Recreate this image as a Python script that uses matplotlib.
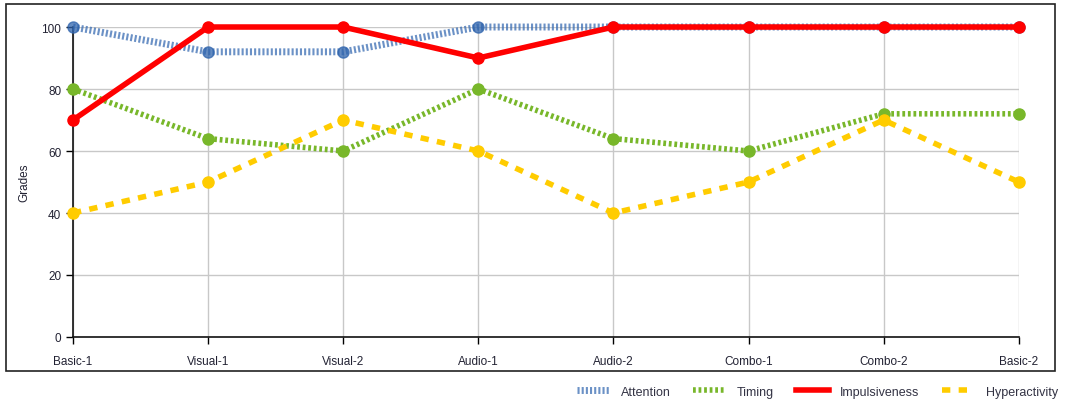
import matplotlib
matplotlib.use("Agg")
import matplotlib.pyplot as plt
from matplotlib.patches import Rectangle

# Data
sessions = ["Basic-1", "Visual-1", "Visual-2", "Audio-1", "Audio-2", "Combo-1", "Combo-2", "Basic-2"]
attention = [100, 92, 92, 100, 100, 100, 100, 100]
timing = [80, 64, 60, 80, 64, 60, 72, 72]
impulsiveness = [70, 100, 100, 90, 100, 100, 100, 100]
hyperactivity = [40, 50, 70, 60, 40, 50, 70, 50]

plt.rcParams['font.family'] = ['Liberation Sans', 'DejaVu Sans']

fig = plt.figure(figsize=(10.69, 4.06), dpi=100)
ax = fig.add_axes([0.0683, 0.1675, 0.8847, 0.7635])

x = list(range(len(sessions)))

# outer frame around the chart
fig.patches.append(Rectangle((0.006, 0.084), 0.981, 0.904, transform=fig.transFigure,
                             fill=False, edgecolor='#222222', linewidth=1.2))

ax.plot(x, attention, color='#3a6db3', lw=5, ls=(0, (0.3, 0.3)), alpha=0.75,
        marker='o', ms=8, markerfacecolor='#2f64ad', markeredgecolor='#2f64ad',
        label='Attention', zorder=3, clip_on=False)
ax.plot(x, timing, color='#78b72a', lw=4, ls=(0, (0.5, 0.5)),
        marker='o', ms=8, markerfacecolor='#78b72a', markeredgecolor='#78b72a',
        label='Timing', zorder=3, clip_on=False)
ax.plot(x, impulsiveness, color='#ff0000', lw=4, ls='-',
        marker='o', ms=8, markerfacecolor='#ff0000', markeredgecolor='#ff0000',
        label='Impulsiveness', zorder=4, clip_on=False)
ax.plot(x, hyperactivity, color='#ffcc00', lw=4, ls=(0, (1.5, 1.5)),
        marker='o', ms=8, markerfacecolor='#ffcc00', markeredgecolor='#ffcc00',
        label='Hyperactivity', zorder=3, clip_on=False)

ax.set_xlim(0, len(sessions) - 1)
ax.set_ylim(0, 100)
ax.set_xticks(x)
ax.set_xticklabels(sessions, fontsize=8.5, color='#222233')
ax.set_yticks([0, 20, 40, 60, 80, 100])
ax.tick_params(axis='y', labelsize=8.5, labelcolor='#222233', length=5, width=1)
ax.tick_params(axis='x', length=5, width=1, pad=8)
ax.grid(True, color='#c8c8c8', lw=1)
ax.set_axisbelow(True)
for s in ['top', 'right']:
    ax.spines[s].set_visible(False)
for s in ['left', 'bottom']:
    ax.spines[s].set_color('#111111')
    ax.spines[s].set_linewidth(1.2)
ax.set_ylabel('Grades', fontsize=8.5, color='#222233', labelpad=8)

handles, labels = ax.get_legend_handles_labels()
leg = fig.legend(handles, labels, loc='lower right', bbox_to_anchor=(1.0, -0.01), ncol=4,
                 frameon=False, fontsize=9, handlelength=2.6, columnspacing=1.8,
                 handletextpad=0.9)
for h in leg.legend_handles:
    h.set_marker('')
for t in leg.get_texts():
    t.set_color('#333344')

fig.savefig('out.png', dpi=100)
